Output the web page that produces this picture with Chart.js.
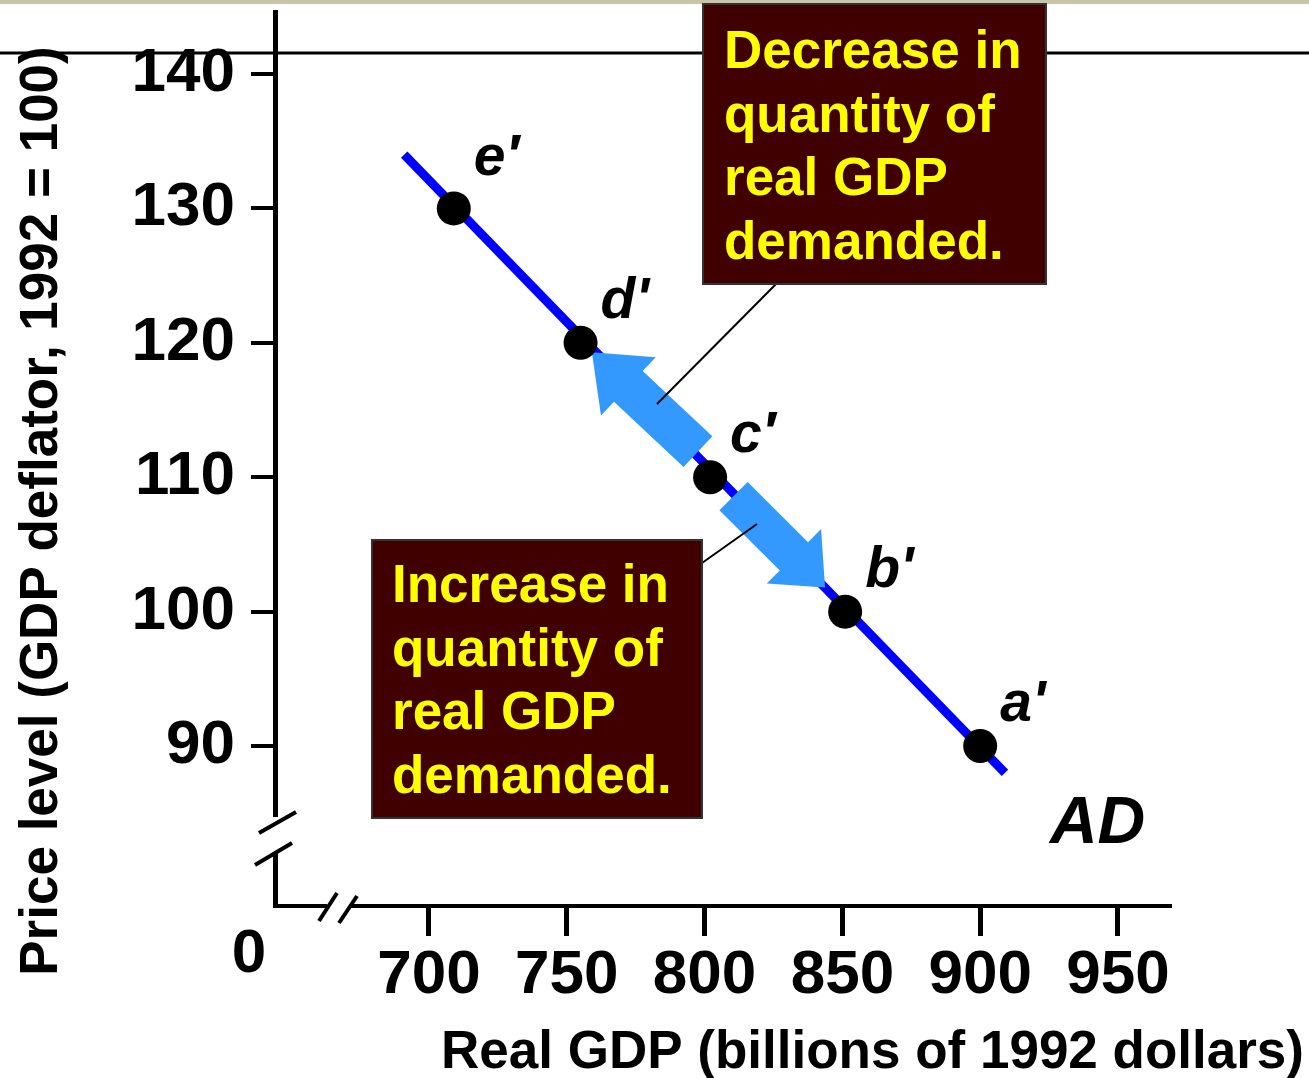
<!DOCTYPE html>
<html>
<head>
<meta charset="utf-8">
<script src="https://cdn.jsdelivr.net/npm/chart.js@4.4.1/dist/chart.umd.min.js"></script>
<style>
  html, body { margin: 0; padding: 0; background: #fff; }
  canvas { display: block; }
</style>
</head>
<body>
<canvas id="chart" width="1309" height="1078"></canvas>
<script>
let pointNames = ["e\u2032", "d'", "c\u2032", "b'", "a'"];
let realGdp = [709, 755, 802, 851, 900];
let priceLevel = [130, 120, 110, 100, 90];
let adLineGdp = [691, 909];
let adLinePrice = [134, 88];
let xTicks = [700, 750, 800, 850, 900, 950];
let yTicks = [90, 100, 110, 120, 130, 140];
// arrows along AD (tail -> tip, in data units)
let arrowFrom = [[797.6, 111.9], [810.5, 108.6]];
let arrowTo = [[759.1, 119.3], [843.7, 101.8]];
let decreaseText = ["Decrease in", "quantity of", "real GDP", "demanded."];
let increaseText = ["Increase in", "quantity of", "real GDP", "demanded."];

const FONT = '"Liberation Sans", Arial, sans-serif';

function line(ctx, x1, y1, x2, y2) {
  ctx.beginPath();
  ctx.moveTo(x1, y1);
  ctx.lineTo(x2, y2);
  ctx.stroke();
}

function drawArrow(ctx, tx, ty, hx, hy, shaftW, headW, headL) {
  let len = Math.hypot(hx - tx, hy - ty);
  let ux = (hx - tx) / len, uy = (hy - ty) / len;
  let px = -uy, py = ux;
  let bx = hx - ux * headL, by = hy - uy * headL;
  ctx.beginPath();
  ctx.moveTo(tx + px * shaftW / 2, ty + py * shaftW / 2);
  ctx.lineTo(bx + px * shaftW / 2, by + py * shaftW / 2);
  ctx.lineTo(bx + px * headW / 2, by + py * headW / 2);
  ctx.lineTo(hx, hy);
  ctx.lineTo(bx - px * headW / 2, by - py * headW / 2);
  ctx.lineTo(bx - px * shaftW / 2, by - py * shaftW / 2);
  ctx.lineTo(tx - px * shaftW / 2, ty - py * shaftW / 2);
  ctx.closePath();
  ctx.fill();
}

function drawBox(ctx, x, y, w, h, lines, textX, firstBase) {
  ctx.fillStyle = "#400000";
  ctx.fillRect(x, y, w, h);
  ctx.strokeStyle = "#333";
  ctx.lineWidth = 2;
  ctx.strokeRect(x, y, w, h);
  ctx.fillStyle = "#ffff00";
  ctx.font = "bold 53px " + FONT;
  ctx.textAlign = "left";
  ctx.textBaseline = "alphabetic";
  lines.forEach((t, i) => ctx.fillText(t, textX, firstBase + i * 63.5));
}

const decorPlugin = {
  id: "decor",
  beforeDraw(chart) {
    let ctx = chart.ctx;
    ctx.save();
    ctx.fillStyle = "#c9c5ab";
    ctx.fillRect(0, 0, chart.width, 4);
    ctx.strokeStyle = "#000";
    ctx.lineWidth = 3;
    line(ctx, 0, 53, chart.width, 53);
    ctx.restore();
  },
  afterDatasetDraw(chart, args) {
    if (args.index !== 1) return;
    let ctx = chart.ctx;
    let xs = chart.scales.x, ys = chart.scales.y;
    ctx.save();
    ctx.fillStyle = "#3399ff";
    let sizes = [[42, 80, 50], [40, 77, 44]];
    arrowFrom.forEach((f, i) => {
      let t = arrowTo[i];
      drawArrow(ctx, xs.getPixelForValue(f[0]), ys.getPixelForValue(f[1]),
        xs.getPixelForValue(t[0]), ys.getPixelForValue(t[1]),
        sizes[i][0], sizes[i][1], sizes[i][2]);
    });
    ctx.restore();
  },
  afterDraw(chart) {
    let ctx = chart.ctx;
    let a = chart.chartArea;
    let xs = chart.scales.x, ys = chart.scales.y;
    ctx.save();
    // broken axes
    ctx.strokeStyle = "#000";
    ctx.lineWidth = 5;
    line(ctx, a.left - 1.5, a.top, a.left - 1.5, 817);
    line(ctx, a.left - 1.5, 854, a.left - 1.5, a.bottom + 2);
    ctx.lineWidth = 4;
    line(ctx, a.left - 4, a.bottom, 327, a.bottom);
    line(ctx, 350, a.bottom, a.right, a.bottom);
    line(ctx, 259, 833, 296, 812);
    line(ctx, 255, 865, 292, 843);
    line(ctx, 319, 921, 337, 893);
    line(ctx, 339, 923, 357, 896);

    // point labels
    ctx.fillStyle = "#000";
    ctx.font = "italic bold 57px " + FONT;
    ctx.textAlign = "left";
    ctx.textBaseline = "alphabetic";
    pointNames.forEach((n, i) => {
      let px = xs.getPixelForValue(realGdp[i]);
      let py = ys.getPixelForValue(priceLevel[i]);
      ctx.fillText(n, px + 20, py - (i === 0 ? 33 : 25));
    });
    ctx.font = "italic bold 66px " + FONT;
    ctx.fillText("AD", xs.getPixelForValue(925.3), ys.getPixelForValue(82.8));

    // leader lines and boxes
    ctx.strokeStyle = "#000";
    ctx.lineWidth = 2;
    line(ctx, 777, 283, 657, 404);
    line(ctx, 702, 563, 757, 524);
    drawBox(ctx, 703, 4, 343, 280, decreaseText, 724, 68);
    drawBox(ctx, 372, 540, 330, 278, increaseText, 392, 602);

    // axis titles and origin
    ctx.fillStyle = "#000";
    ctx.font = "bold 62px " + FONT;
    ctx.textAlign = "center";
    ctx.fillText("0", 249, 972);
    ctx.font = "bold 53px " + FONT;
    ctx.textAlign = "right";
    ctx.fillText("Real GDP (billions of 1992 dollars)", 1304, 1068);
    ctx.translate(57, 511);
    ctx.rotate(-Math.PI / 2);
    ctx.textAlign = "center";
    ctx.fillText("Price level (GDP deflator, 1992 = 100)", 0, 0);
    ctx.restore();
  }
};

new Chart(document.getElementById("chart"), {
  type: "scatter",
  data: {
    datasets: [
      {
        label: "points",
        data: realGdp.map((x, i) => ({ x: x, y: priceLevel[i] })),
        backgroundColor: "#000",
        borderWidth: 0,
        pointRadius: 17,
        showLine: false
      },
      {
        label: "AD",
        data: adLineGdp.map((x, i) => ({ x: x, y: adLinePrice[i] })),
        borderColor: "#0000ff",
        borderWidth: 9,
        pointRadius: 0,
        showLine: true,
        borderCapStyle: "butt"
      }
    ]
  },
  options: {
    responsive: false,
    animation: false,
    layout: { autoPadding: false, padding: { top: 10, right: 137, left: 0, bottom: 0 } },
    plugins: { legend: { display: false }, tooltip: { enabled: false } },
    scales: {
      x: {
        type: "linear",
        min: 644.85,
        max: 969.6,
        afterBuildTicks: (s) => { s.ticks = xTicks.map(v => ({ value: v })); },
        afterFit: (s) => { s.height = 172; s.paddingLeft = 0; s.paddingRight = 0; },
        border: { display: false },
        grid: { drawOnChartArea: false, drawTicks: true, tickLength: 30, color: "#000", lineWidth: 5 },
        ticks: { color: "#000", font: { family: FONT, size: 62, weight: "bold" }, padding: 3, autoSkip: false, maxRotation: 0 }
      },
      y: {
        type: "linear",
        min: 78.1,
        max: 144.76,
        afterBuildTicks: (s) => { s.ticks = yTicks.map(v => ({ value: v })); },
        afterFit: (s) => { s.width = 277; s.paddingTop = 0; s.paddingBottom = 0; },
        border: { display: false },
        grid: { drawOnChartArea: false, drawTicks: true, tickLength: 26, color: "#000", lineWidth: 4 },
        ticks: { color: "#000", font: { family: FONT, size: 62, weight: "bold" }, padding: 16 }
      }
    }
  },
  plugins: [decorPlugin]
});
</script>
</body>
</html>
